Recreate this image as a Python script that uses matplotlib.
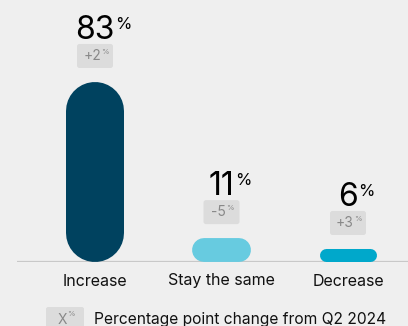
import matplotlib
matplotlib.use("Agg")
import matplotlib.pyplot as plt
from matplotlib.patches import FancyBboxPatch

categories = ["Increase", "Stay the same", "Decrease"]
values = [83, 11, 6]
changes = ["+2", "-5", "+3"]
colors = ["#00425f", "#67cbe0", "#00a8cb"]
legend_text = "Percentage point change from Q2 2024"

plt.rcParams["font.family"] = ["Inter", "DejaVu Sans"]
BG = "#efefef"
W, H = 408, 326
fig = plt.figure(figsize=(W / 100, H / 100), dpi=100, facecolor=BG)

# axes geometry (pixels)
x0_px, base_px = 17, 262
step_px = 126.5
first_px = 95
ppu = 2.169  # pixels per value unit
ax = fig.add_axes([x0_px / W, (H - base_px) / H, (W - x0_px) / W, base_px / H])
ax.set_facecolor(BG)
ax.set_xlim((x0_px - first_px) / step_px, (W - first_px) / step_px)
ax.set_ylim(0, base_px / ppu)
ax.axis("off")

bar_px = 58
bar_w = bar_px / step_px
pt = 72 / 100  # points per pixel
for i, (v, c) in enumerate(zip(values, colors)):
    h_px = v * ppu
    if h_px >= bar_px:
        r = (bar_px / 2) / ppu
        ax.plot([i, i], [r, v - r], color=c, lw=bar_px * pt,
                solid_capstyle="round", zorder=3)
    else:
        r = (h_px / 2) / step_px
        ax.plot([i - bar_w / 2 + r, i + bar_w / 2 - r], [v / 2, v / 2], color=c,
                lw=h_px * pt, solid_capstyle="round", zorder=3)

ax.axhline(0, color="#c8c8c8", lw=1.6, zorder=2)

aspect = step_px / ppu
box_w = 36 / step_px
box_h = 24 / ppu
gap = 14 / ppu
for i, (v, ch) in enumerate(zip(values, changes)):
    yb = v + gap
    bx = FancyBboxPatch((i - box_w / 2, yb), box_w, box_h,
                        boxstyle=f"round,pad=0,rounding_size={2.5 / step_px}",
                        mutation_aspect=aspect, facecolor="#dcdcdc", edgecolor="none", zorder=3)
    ax.add_patch(bx)
    t = ax.text(i - 3 / step_px, yb + box_h / 2, ch, ha="center", va="center",
                fontsize=10, color="#888888", zorder=4)
    ax.annotate("%", xy=(1, 1), xycoords=t, xytext=(0.3, 0), textcoords="offset points",
                ha="left", va="top", fontsize=5.5, color="#888888", zorder=4)
    n = ax.text(i, yb + box_h + 5 / ppu, str(v), ha="center", va="baseline",
                fontsize=23, color="#000000", zorder=4)
    ax.annotate("%", xy=(1, 1), xycoords=n, xytext=(0.3, -1.5), textcoords="offset points",
                ha="left", va="top", fontsize=12, color="#000000", zorder=4)

for i, cat in enumerate(categories):
    ax.text(i, -23.5 / ppu, cat, ha="center", va="baseline", fontsize=11.5, color="#111111")

# legend
lb = FancyBboxPatch((46 / W, 1 - 331 / H), 38 / W, 24 / H,
                    boxstyle="round,pad=0,rounding_size=0.006",
                    transform=fig.transFigure, facecolor="#dcdcdc", edgecolor="none")
fig.patches.append(lb)
fig.text(62 / W, 1 - 324 / H, "X", ha="center", va="baseline", fontsize=10, color="#888888")
fig.text(67 / W, 1 - 316 / H, "%", ha="left", va="baseline", fontsize=5.5, color="#888888")
fig.text(94 / W, 1 - 324 / H, legend_text, ha="left", va="baseline", fontsize=11.2, color="#111111")

fig.savefig("out.png", dpi=100, facecolor=BG)
